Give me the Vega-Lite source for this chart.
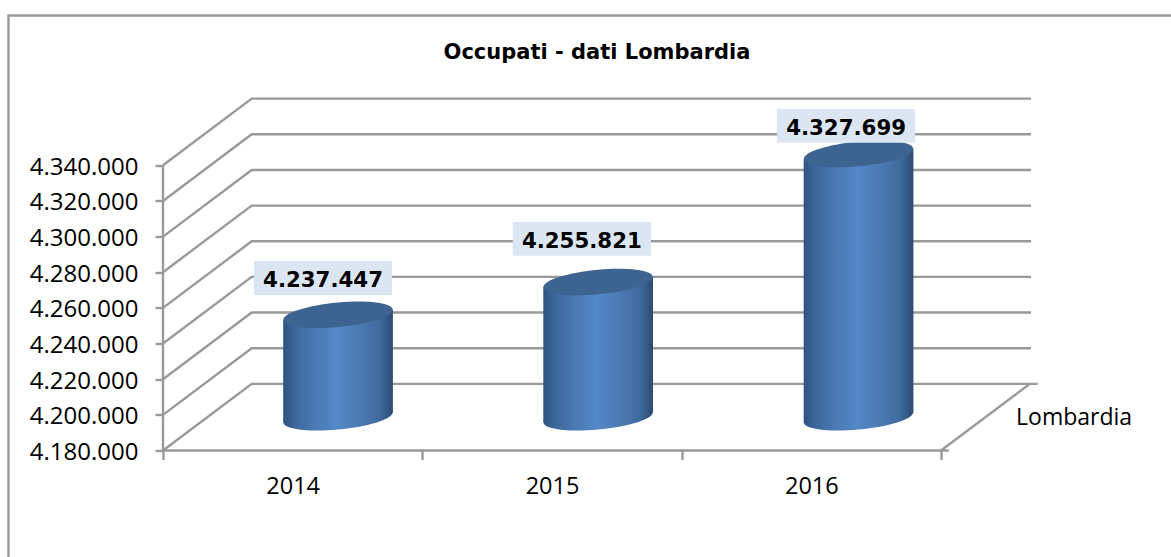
{"$schema":"https://vega.github.io/schema/vega-lite/v6.json","width":868,"height":352,"autosize":{"type":"none"},"padding":{"left":163,"right":140,"top":98.5,"bottom":106.5},"background":"#ffffff","title":{"text":"Occupati - dati Lombardia","font":"DejaVu Sans","fontSize":21,"fontWeight":"bold","color":"#000000","anchor":"middle","frame":"group","offset":0,"dy":52},"config":{"view":{"stroke":null}},"datasets":{"frame":[{"p":1,"x":-0.5958,"v":4120254},{"p":2,"x":-0.5958,"v":4424035},{"p":3,"x":3.887,"v":4424035}],"grid":[{"g":"g0","x":0,"v":4180000},{"g":"g0","x":0.342,"v":4217400},{"g":"g0","x":3.373,"v":4217400},{"g":"g1","x":0,"v":4200000},{"g":"g1","x":0.342,"v":4237400},{"g":"g1","x":3.347,"v":4237400},{"g":"g2","x":0,"v":4220000},{"g":"g2","x":0.342,"v":4257400},{"g":"g2","x":3.347,"v":4257400},{"g":"g3","x":0,"v":4240000},{"g":"g3","x":0.342,"v":4277400},{"g":"g3","x":3.347,"v":4277400},{"g":"g4","x":0,"v":4260000},{"g":"g4","x":0.342,"v":4297400},{"g":"g4","x":3.347,"v":4297400},{"g":"g5","x":0,"v":4280000},{"g":"g5","x":0.342,"v":4317400},{"g":"g5","x":3.347,"v":4317400},{"g":"g6","x":0,"v":4300000},{"g":"g6","x":0.342,"v":4337400},{"g":"g6","x":3.347,"v":4337400},{"g":"g7","x":0,"v":4320000},{"g":"g7","x":0.342,"v":4357400},{"g":"g7","x":3.347,"v":4357400},{"g":"g8","x":0,"v":4340000},{"g":"g8","x":0.342,"v":4377400},{"g":"g8","x":3.347,"v":4377400},{"g":"front","x":0,"v":4180000},{"g":"front","x":3.03,"v":4180000},{"g":"right","x":3,"v":4180000},{"g":"right","x":3.343,"v":4217400},{"g":"wall","x":0,"v":4180000},{"g":"wall","x":0,"v":4340000}],"body":[{"year":"2014","x":0.4635,"top":4253342,"base":4195895},{"year":"2014","x":0.8865,"top":4258952,"base":4201505},{"year":"2015","x":1.4665,"top":4271716,"base":4195895},{"year":"2015","x":1.8895,"top":4277326,"base":4201505},{"year":"2016","x":2.4705,"top":4343594,"base":4195895},{"year":"2016","x":2.8935,"top":4349204,"base":4201505}],"caps":[{"year":"2014","value":4237447,"x":0.675,"top":4256147,"base":4198700},{"year":"2015","value":4255821,"x":1.678,"top":4274521,"base":4198700},{"year":"2016","value":4327699,"x":2.682,"top":4346399,"base":4198700}],"labels":[{"year":"2014","label":"4.237.447","x":0.617,"x1":0.3509,"x2":0.883,"v":4276773,"v1":4267236,"v2":4286310},{"year":"2015","label":"4.255.821","x":1.615,"x1":1.3485,"x2":1.8817,"v":4298652,"v1":4289283,"v2":4308189},{"year":"2016","label":"4.327.699","x":2.634,"x1":2.3676,"x2":2.8998,"v":4362045,"v1":4352676,"v2":4371582}],"series":[{"name":"Lombardia","x":3.513,"v":4198232}]},"layer":[{"data":{"name":"frame"},"mark":{"type":"line","color":"#999999","strokeWidth":2.4,"clip":false},"encoding":{"x":{"field":"x","type":"quantitative","scale":{"domain":[0,3.347],"nice":false,"zero":false},"axis":{"title":null,"grid":false,"domain":false,"values":[0,0.5,1,1.5,2,2.5,3],"labelExpr":"datum.value==0.5?'2014':datum.value==1.5?'2015':datum.value==2.5?'2016':''","labelFont":"Open Sans","labelFontSize":23.5,"labelColor":"#000000","labelPadding":15,"labelOverlap":false,"labelFlush":false,"tickSize":9,"tickWidth":2.4,"tickColor":"#999999","tickOpacity":{"condition":{"test":"datum.value%1==0","value":1},"value":0}}},"y":{"field":"v","type":"quantitative","scale":{"domain":[4180000,4377472],"nice":false,"zero":false},"axis":{"title":null,"grid":false,"domain":false,"values":[4180000,4200000,4220000,4240000,4260000,4280000,4300000,4320000,4340000],"labelExpr":"replace(replace(format(datum.value,','),',','.'),',','.')","labelFont":"Open Sans","labelFontSize":24,"labelColor":"#000000","labelPadding":17,"labelOffset":2,"labelOverlap":false,"labelFlush":false,"tickSize":8,"tickWidth":2.4,"tickColor":"#999999"}},"order":{"field":"p"}}},{"data":{"name":"grid"},"mark":{"type":"line","color":"#999999","strokeWidth":2.4,"clip":false},"encoding":{"x":{"field":"x","type":"quantitative"},"y":{"field":"v","type":"quantitative"},"detail":{"field":"g"},"order":{"field":"x"}}},{"data":{"name":"caps"},"mark":{"type":"point","filled":true,"opacity":1,"clip":false,"size":11968,"stroke":null,"shape":"M1,-0.0914C1,0.0329,0.5523,0.1745,0,0.225C-0.5523,0.2755,-1,0.2157,-1,0.0914C-1,-0.0329,-0.5523,-0.1745,0,-0.225C0.5523,-0.2755,1,-0.2157,1,-0.0914Z","color":{"gradient":"linear","x1":0,"x2":1,"y1":0,"y2":0,"stops":[{"offset":0,"color":"#2f5380"},{"offset":0.12,"color":"#3d699e"},{"offset":0.28,"color":"#4a78b2"},{"offset":0.48,"color":"#5488c8"},{"offset":0.72,"color":"#4a78b0"},{"offset":0.88,"color":"#3f6a9e"},{"offset":1,"color":"#2c4b72"}]}},"encoding":{"x":{"field":"x","type":"quantitative"},"y":{"field":"base","type":"quantitative"}}},{"data":{"name":"body"},"mark":{"type":"area","orient":"vertical","clip":false,"opacity":1,"color":{"gradient":"linear","x1":0,"x2":1,"y1":0,"y2":0,"stops":[{"offset":0,"color":"#2f5380"},{"offset":0.12,"color":"#3d699e"},{"offset":0.28,"color":"#4a78b2"},{"offset":0.48,"color":"#5488c8"},{"offset":0.72,"color":"#4a78b0"},{"offset":0.88,"color":"#3f6a9e"},{"offset":1,"color":"#2c4b72"}]}},"encoding":{"x":{"field":"x","type":"quantitative"},"y":{"field":"top","type":"quantitative"},"y2":{"field":"base"},"detail":{"field":"year"}}},{"data":{"name":"caps"},"mark":{"type":"point","filled":true,"opacity":1,"clip":false,"size":11968,"stroke":null,"color":"#3d6390","shape":"M1,-0.0914C1,0.0329,0.5523,0.1745,0,0.225C-0.5523,0.2755,-1,0.2157,-1,0.0914C-1,-0.0329,-0.5523,-0.1745,0,-0.225C0.5523,-0.2755,1,-0.2157,1,-0.0914Z"},"encoding":{"x":{"field":"x","type":"quantitative"},"y":{"field":"top","type":"quantitative"}}},{"data":{"name":"labels"},"mark":{"type":"rect","color":"#dce6f2","clip":false},"encoding":{"x":{"field":"x1","type":"quantitative"},"x2":{"field":"x2"},"y":{"field":"v1","type":"quantitative"},"y2":{"field":"v2"}}},{"data":{"name":"labels"},"mark":{"type":"text","font":"DejaVu Sans","fontWeight":"bold","fontSize":21.3,"color":"#000000","align":"center","baseline":"middle","dy":3,"clip":false},"encoding":{"x":{"field":"x","type":"quantitative"},"y":{"field":"v","type":"quantitative"},"text":{"field":"label"}}},{"data":{"name":"series"},"mark":{"type":"text","font":"Open Sans","fontSize":23,"color":"#000000","align":"center","baseline":"middle","clip":false},"encoding":{"x":{"field":"x","type":"quantitative"},"y":{"field":"v","type":"quantitative"},"text":{"field":"name"}}}]}
